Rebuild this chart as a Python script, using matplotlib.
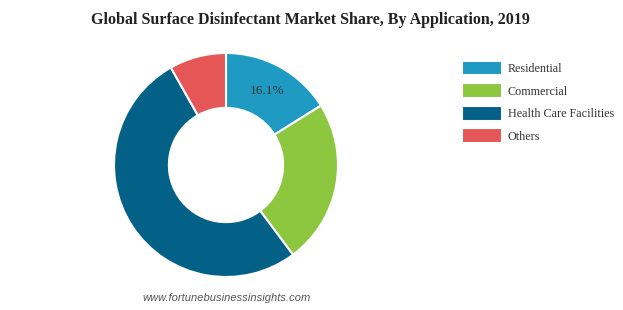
import numpy as np
import matplotlib.pyplot as plt

categories = ['Residential', 'Commercial', 'Health Care Facilities', 'Others']
shares = [16.1, 23.7, 52.0, 8.2]
colors = ['#1E9AC3', '#8DC63F', '#036187', '#E55656']

plt.rcParams['font.family'] = ['Liberation Serif', 'DejaVu Serif']

fig = plt.figure(figsize=(6.23, 3.10), dpi=100)
ax = fig.add_axes([(226 - 112) / 623, (310 - 165 - 112) / 310, 224 / 623, 224 / 310])

wedges, _ = ax.pie(shares, colors=colors, startangle=90, counterclock=False,
                   radius=1.0, wedgeprops=dict(width=0.49, edgecolor='white', linewidth=1.5))
ax.set_xlim(-1, 1)
ax.set_ylim(-1, 1)
ax.set_aspect('equal')
ax.axis('off')

# label only the first slice
w = wedges[0]
mid = np.deg2rad((w.theta1 + w.theta2) / 2)
ax.text(0.755 * np.cos(mid), 0.755 * np.sin(mid), f'{shares[0]}%',
        ha='center', va='center', fontsize=9.5, color='#333333')

fig.text(310 / 623, 0.935, 'Global Surface Disinfectant Market Share, By Application, 2019',
         ha='center', va='center', fontsize=11.5, fontweight='bold', color='#222222')

fig.legend(wedges, categories, loc='upper left', bbox_to_anchor=(458 / 623, 1 - 57 / 310),
           frameon=False, fontsize=8.7, handlelength=3.3, handleheight=1.5,
           handletextpad=0.5, labelspacing=0.65, borderaxespad=0, borderpad=0.3,
           labelcolor='#333333')

fig.text(227 / 623, 1 - 298 / 310, 'www.fortunebusinessinsights.com', ha='center', va='center',
         fontsize=8, style='italic', color='#555555', family=['Liberation Sans', 'DejaVu Sans'])

fig.savefig('out.png', dpi=100)
